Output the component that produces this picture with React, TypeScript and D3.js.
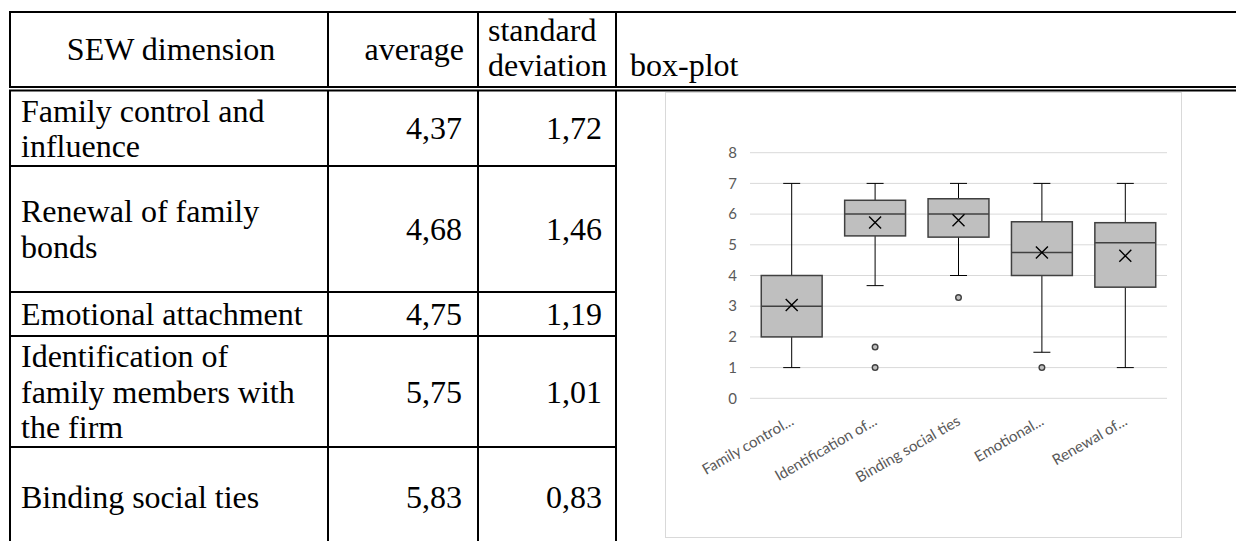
import React from "react";
import { scaleLinear, scaleBand, format } from "d3";

// table data
const dimensionLines = [
  ["Family control and", "influence"],
  ["Renewal of family", "bonds"],
  ["Emotional attachment"],
  ["Identification of", "family members with", "the firm"],
  ["Binding social ties"],
];
const averages = [4.37, 4.68, 4.75, 5.75, 5.83];
const stdDevs = [1.72, 1.46, 1.19, 1.01, 0.83];

// box-plot data
const categories = [
  "Family control...",
  "Identification of...",
  "Binding social ties",
  "Emotional...",
  "Renewal of...",
];
const lowerWhisker = [1, 3.67, 4, 1.5, 1];
const q1 = [2, 5.29, 5.25, 4, 3.62];
const medians = [3, 6, 6, 4.75, 5.07];
const q3 = [4, 6.45, 6.5, 5.75, 5.72];
const upperWhisker = [7, 7, 7, 7, 7];
const means = [3.04, 5.73, 5.8, 4.75, 4.64];
const outliers = [[], [1.67, 1], [3.28], [1], []];
const yTicks = [0, 1, 2, 3, 4, 5, 6, 7, 8];

const W = 1236;
const H = 541;
const serif = "'Liberation Serif', 'Times New Roman', serif";
const sans = "Lato, 'Open Sans', sans-serif";
const FS = 32;
const LH = 35.5;

// table layout
const colX = [10, 328, 478, 616];
const rowTops = [90.5, 166, 292, 336, 447];
const rowBottoms = [166, 292, 336, 447, 547];

const fmt = (v: number) => format(".2f")(v).replace(".", ",");

export default function App() {
  const y = scaleLinear().domain([0, 8]).range([398.3, 152.7]);
  const x = scaleBand<string>()
    .domain(categories)
    .range([750, 1167])
    .paddingInner(0.27)
    .paddingOuter(0.135);
  const bw = x.bandwidth();
  const cap = 8.5;
  const xs = 6;

  return (
    <svg
      width={W}
      height={H}
      style={{ position: "absolute", left: 0, top: 0, display: "block", background: "#fff" }}
    >
      {/* header */}
      <g fontFamily={serif} fontSize={FS} fill="#000">
        <text x={(colX[0] + colX[1]) / 2 + 2} y={60} textAnchor="middle">SEW dimension</text>
        <text x={colX[2] - 14} y={60} textAnchor="end">average</text>
        <text x={colX[2] + 10} y={41}>standard</text>
        <text x={colX[2] + 10} y={76}>deviation</text>
        <text x={colX[3] + 14} y={76}>box-plot</text>
      </g>

      {/* rows */}
      <g fontFamily={serif} fontSize={FS} fill="#000">
        {dimensionLines.map((lines, i) => {
          const c = (rowTops[i] + rowBottoms[i]) / 2;
          const first = c - ((lines.length - 1) * LH) / 2 + 11;
          return (
            <g key={i}>
              {lines.map((l, j) => (
                <text key={j} x={21} y={first + j * LH}>{l}</text>
              ))}
              <text x={colX[2] - 16} y={c + 11} textAnchor="end">{fmt(averages[i])}</text>
              <text x={colX[3] - 14} y={c + 11} textAnchor="end">{fmt(stdDevs[i])}</text>
            </g>
          );
        })}
      </g>

      {/* table lines */}
      <g stroke="#000" strokeWidth={2}>
        <line x1={colX[0] - 1} x2={W} y1={12} y2={12} />
        <line x1={colX[0] - 1} x2={W} y1={87} y2={87} />
        <line x1={colX[0] - 1} x2={W} y1={90.5} y2={90.5} />
        {rowTops.slice(1).map((t) => (
          <line key={t} x1={colX[0]} x2={colX[3]} y1={t} y2={t} />
        ))}
        {colX.map((cx) => (
          <g key={cx}>
            <line x1={cx} x2={cx} y1={11} y2={87} />
            <line x1={cx} x2={cx} y1={90.5} y2={H} />
          </g>
        ))}
      </g>

      {/* chart area */}
      <rect x={665.5} y={92.5} width={516} height={445} fill="#fff" stroke="#d9d9d9" strokeWidth={1} />

      {/* grid + y ticks */}
      <g>
        {yTicks.map((t) => (
          <g key={t}>
            <line x1={750} x2={1167} y1={y(t)} y2={y(t)} stroke="#d9d9d9" strokeWidth={1} />
            <text
              x={737}
              y={y(t)}
              dy="0.35em"
              textAnchor="end"
              fontFamily={sans}
              fontSize={15}
              fill="#595959"
            >
              {t}
            </text>
          </g>
        ))}
      </g>

      {/* boxes */}
      {categories.map((c, i) => {
        const x0 = x(c)!;
        const cx = x0 + bw / 2;
        return (
          <g key={c}>
            <line x1={cx} x2={cx} y1={y(upperWhisker[i])} y2={y(q3[i])} stroke="#000" strokeWidth={1} />
            <line x1={cx} x2={cx} y1={y(q1[i])} y2={y(lowerWhisker[i])} stroke="#000" strokeWidth={1} />
            <line x1={cx - cap} x2={cx + cap} y1={y(upperWhisker[i])} y2={y(upperWhisker[i])} stroke="#000" strokeWidth={1} />
            <line x1={cx - cap} x2={cx + cap} y1={y(lowerWhisker[i])} y2={y(lowerWhisker[i])} stroke="#000" strokeWidth={1} />
            <rect
              x={x0}
              y={y(q3[i])}
              width={bw}
              height={y(q1[i]) - y(q3[i])}
              fill="#bfbfbf"
              stroke="#404040"
              strokeWidth={1.5}
            />
            <line x1={x0} x2={x0 + bw} y1={y(medians[i])} y2={y(medians[i])} stroke="#404040" strokeWidth={1.5} />
            <path
              d={`M${cx - xs},${y(means[i]) - xs}L${cx + xs},${y(means[i]) + xs}M${cx - xs},${y(means[i]) + xs}L${cx + xs},${y(means[i]) - xs}`}
              stroke="#000"
              strokeWidth={1.4}
              fill="none"
            />
            {outliers[i].map((o, k) => (
              <circle key={k} cx={cx} cy={y(o)} r={2.8} fill="#bfbfbf" stroke="#404040" strokeWidth={1.4} />
            ))}
            <text
              transform={`translate(${cx + 3},${424}) rotate(-30)`}
              textAnchor="end"
              fontFamily={sans}
              fontSize={15}
              fill="#595959"
            >
              {c}
            </text>
          </g>
        );
      })}
    </svg>
  );
}
